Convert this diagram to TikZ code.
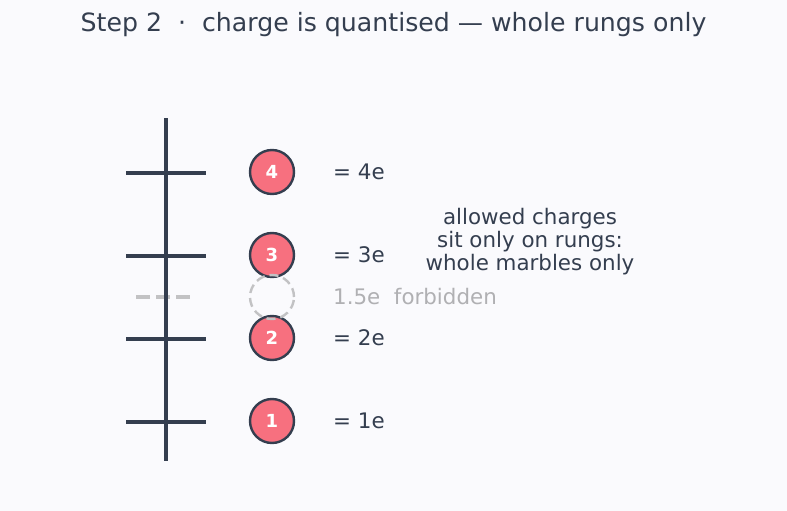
\documentclass[tikz,border=0pt]{standalone}
\usepackage{fontspec}
\setmainfont{DejaVu Sans}
\definecolor{bg}{HTML}{FAFAFD}
\definecolor{ink}{HTML}{343E4F}
\definecolor{marble}{HTML}{F7707F}
\definecolor{ghost}{HTML}{C2C2C4}
\definecolor{ghosttext}{HTML}{B0B0B3}
\begin{document}
\begin{tikzpicture}[x=1pt,y=-1pt,
  rung/.style={draw=ink,line width=4pt},
  ghostrung/.style={draw=ghost,line width=4pt,dash pattern=on 14pt off 6pt},
  marblebox/.style={circle,draw=ink,line width=2.4pt,fill=marble,minimum size=44pt,inner sep=0pt,
    text=white,font=\fontsize{18}{18}\selectfont\bfseries},
  ghostmarble/.style={circle,draw=ghost,line width=2.4pt,dash pattern=on 9pt off 5pt,minimum size=44pt,inner sep=0pt},
  lbl/.style={anchor=west,text=ink,font=\fontsize{21.4}{23}\selectfont,inner sep=0pt},
  note/.style={align=center,text=ink,font=\fontsize{21.4}{23}\selectfont,inner sep=0pt}]
\fill[bg] (0,0) rectangle (787,511);
\useasboundingbox (0,0) rectangle (787,511);
\node[text=ink,font=\fontsize{25.2}{28}\selectfont,inner sep=0pt] (title) at (393.5,24.5)
  {Step 2\ \ ·\ \ charge is quantised — whole rungs only};
% ladder
\coordinate (top) at (166,118);
\coordinate (bot) at (166,461);
\coordinate (gL) at (136,297);
\coordinate (gR) at (196,297);
\draw[ghostrung] (gL) -- (gR);
\foreach \i/\y in {1/422,2/339,3/256,4/173}{
  \coordinate (r\i L) at (126,\y);
  \coordinate (r\i R) at (206,\y);
  \draw[rung] (r\i L) -- (r\i R);
}
\draw[rung] (top) -- (bot);
% marbles
\foreach \i/\y in {1/421,2/338,3/255,4/172}{
  \node[marblebox] (m\i) at (272,\y) {\i};
  \node[lbl] (l\i) at (333,\y) {= \i e};
}
\node[ghostmarble] (mg) at (272,297) {};
\node[lbl,text=ghosttext] (lg) at (333,296.5) {1.5e\ \ forbidden};
\node[note] (note) at (530,241.5) {allowed charges\\sit only on rungs:\\whole marbles only};
\end{tikzpicture}
\end{document}
